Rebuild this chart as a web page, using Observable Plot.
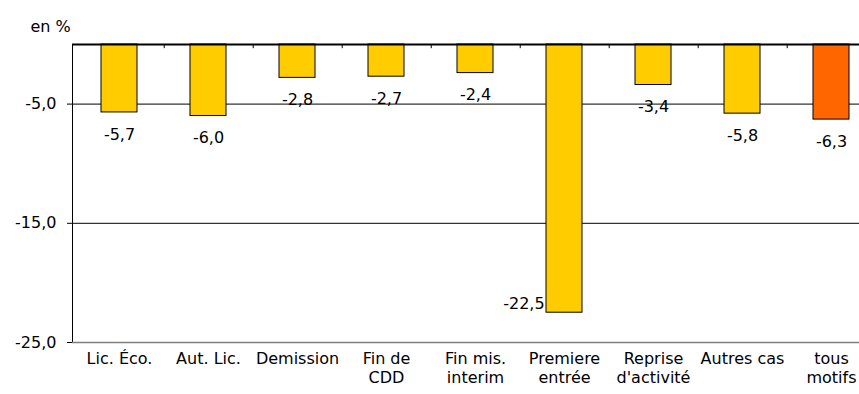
<!DOCTYPE html>
<html>
<head>
<meta charset="utf-8">
<script src="https://cdn.jsdelivr.net/npm/d3@7"></script>
<script src="https://cdn.jsdelivr.net/npm/@observablehq/plot@0.6"></script>
<style>
  html, body { margin: 0; padding: 0; background: #fff; }
  #chart svg { display: block; }
</style>
</head>
<body>
<div id="chart"></div>
<script>
const categories = ["Lic. Éco.", "Aut. Lic.", "Demission", "Fin de\nCDD", "Fin mis.\ninterim", "Premiere\nentrée", "Reprise\nd'activité", "Autres cas", "tous\nmotifs"];
const values = [-5.7, -6.0, -2.8, -2.7, -2.4, -22.5, -3.4, -5.8, -6.3];
const kinds = ["motif", "motif", "motif", "motif", "motif", "motif", "motif", "motif", "total"];
const yTicks = [-5, -15, -25];
const unitLabel = "en %";

const data = categories.map((c, i) => ({cat: c, value: values[i], kind: kinds[i]}));
const fmt = v => v.toFixed(1).replace(".", ",");

const W = 859, H = 394;
const xRange = [72, 877];
const step = (xRange[1] - xRange[0]) / categories.length;
const bw = step * 0.4;

const chart = Plot.plot({
  width: W,
  height: H,
  marginTop: 44,
  marginBottom: 52,
  marginLeft: 72,
  marginRight: 0,
  style: {fontFamily: "DejaVu Sans", fontSize: "16px", color: "#000", background: "#fff"},
  x: {type: "band", domain: categories, range: xRange, paddingInner: 0.6, paddingOuter: 0.3, axis: null},
  y: {domain: [-25, 0], ticks: yTicks, tickFormat: fmt, tickSize: 5, tickPadding: 11, line: true, label: null},
  color: {domain: ["motif", "total"], range: ["#FFCC00", "#FF6600"]},
  marks: [
    Plot.ruleY(yTicks.filter(t => t !== -25), {y: d => d, stroke: "#000", strokeWidth: 1}),
    Plot.ruleY([-25], {y: d => d, stroke: "#808080", strokeWidth: 1.5}),
    Plot.barY(data, {x: "cat", y: "value", fill: d => d.kind, stroke: "#000", strokeWidth: 1}),
    Plot.ruleY([0], {y: d => d, stroke: "#000", strokeWidth: 2}),
    Plot.ruleX(categories.slice(0, -1), {x: d => d, dx: step / 2, y1: 0, y2: -0.35, stroke: "#000", strokeWidth: 1}),
    Plot.text(data.filter(d => d.value > -20), {x: "cat", y: "value", text: d => fmt(d.value), dy: 22, fill: "#000"}),
    Plot.text(data.filter(d => d.value <= -20), {x: "cat", y: "value", text: d => fmt(d.value), textAnchor: "end", dx: -(bw / 2 + 2), dy: -9, fill: "#000"}),
    Plot.text(categories, {x: d => d, frameAnchor: "bottom", lineAnchor: "top", dy: 8, lineHeight: 1.2, text: d => d, fill: "#000"}),
    Plot.text([unitLabel], {frameAnchor: "top-left", textAnchor: "start", dx: -42, dy: -24, text: d => d, fill: "#000"})
  ]
});
document.getElementById("chart").appendChild(chart);
</script>
</body>
</html>
